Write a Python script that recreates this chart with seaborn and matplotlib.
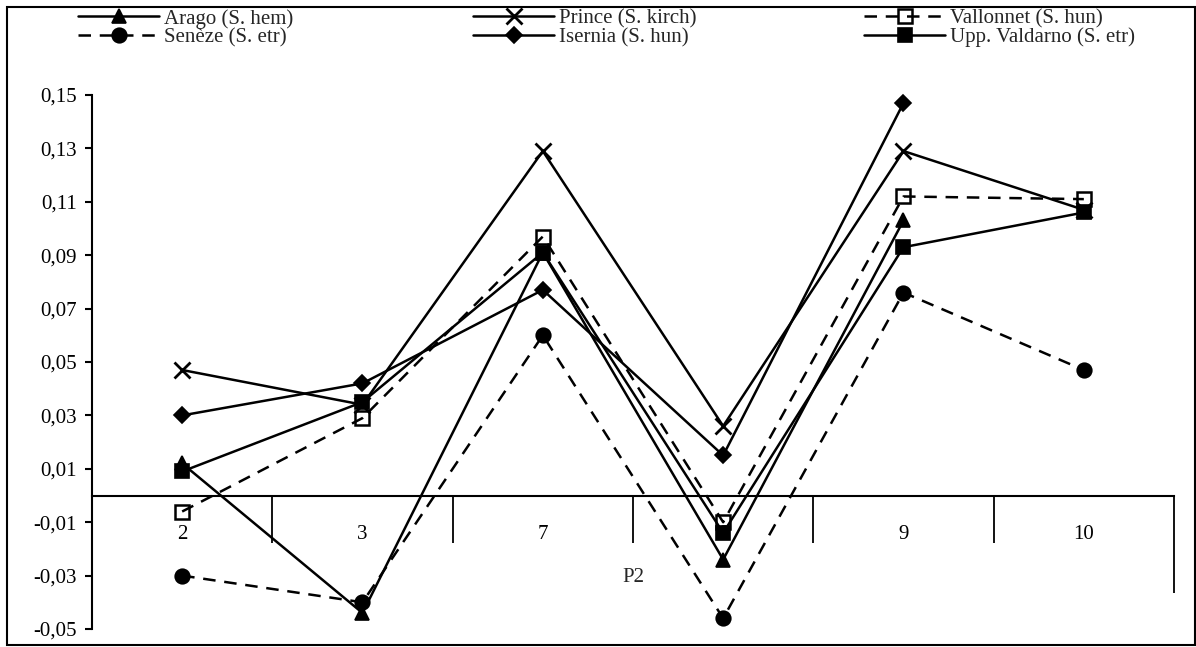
import numpy as np
import pandas as pd
import matplotlib
matplotlib.use("Agg")
import matplotlib.pyplot as plt
import seaborn as sns
from matplotlib.ticker import FuncFormatter, FixedLocator
from matplotlib.patches import Rectangle

# ---------------- data ----------------
categories = ["2", "3", "7", "8", "9", "10"]
group_label = "P2"

arago = [0.012, -0.044, 0.091, -0.024, 0.103, np.nan]
prince = [0.047, 0.034, 0.129, 0.026, 0.129, 0.107]
vallonnet = [-0.006, 0.029, 0.097, -0.010, 0.112, 0.111]
seneze = [-0.030, -0.040, 0.060, -0.046, 0.076, 0.047]
isernia = [0.030, 0.042, 0.077, 0.015, 0.147, np.nan]
valdarno = [0.009, 0.035, 0.091, -0.014, 0.093, 0.106]

series_names = ["Arago (S. hem)", "Prince (S. kirch)", "Vallonnet (S. hun)",
                "Senèze (S. etr)", "Isernia (S. hun)", "Upp. Valdarno (S. etr)"]
series_values = [arago, prince, vallonnet, seneze, isernia, valdarno]

y_ticks = [-0.05, -0.03, -0.01, 0.01, 0.03, 0.05, 0.07, 0.09, 0.11, 0.13, 0.15]

# ---------------- style ----------------
sns.set_style("white")
plt.rcParams["font.family"] = ["Liberation Serif", "DejaVu Serif"]
plt.rcParams["font.size"] = 15

W, H = 1196, 647
fig = plt.figure(figsize=(W / 100, H / 100), dpi=100)
x0, x1, ytop, ybot = 92, 1174, 95, 629
ax = fig.add_axes([x0 / W, 1 - ybot / H, (x1 - x0) / W, (ybot - ytop) / H])

dash = (0, (5, 3.5))
styles = {
    "Arago (S. hem)": dict(marker="^", linestyle="-", markersize=10, markerfacecolor="black"),
    "Prince (S. kirch)": dict(marker="x", linestyle="-", markersize=11, markeredgewidth=2),
    "Vallonnet (S. hun)": dict(marker="s", linestyle=dash, markersize=9.5,
                               markerfacecolor="none", markeredgewidth=1.8),
    "Senèze (S. etr)": dict(marker="o", linestyle=dash, markersize=10.5, markerfacecolor="black"),
    "Isernia (S. hun)": dict(marker="D", linestyle="-", markersize=8.5, markerfacecolor="black"),
    "Upp. Valdarno (S. etr)": dict(marker="s", linestyle="-", markersize=10, markerfacecolor="black"),
}

handles = {}
for name, vals in zip(series_names, series_values):
    df = pd.DataFrame({"cat": categories, "val": vals})
    kw = dict(styles[name])
    kw.setdefault("markeredgewidth", 1.2)
    sns.lineplot(data=df, x="cat", y="val", ax=ax, sort=False, legend=False,
                 color="black", linewidth=1.8, markeredgecolor="black",
                 zorder=3, clip_on=False, **kw)
    handles[name] = ax.lines[-1]

ax.set_xlim(-0.5, len(categories) - 0.5)
ax.set_ylim(-0.05, 0.15)
ax.yaxis.set_major_locator(FixedLocator(y_ticks))
ax.yaxis.set_major_formatter(FuncFormatter(lambda v, p: f"{v:.2f}".replace(".", ",")))

for s in ["top", "right"]:
    ax.spines[s].set_visible(False)
ax.spines["left"].set_linewidth(1.5)
ax.spines["bottom"].set_linewidth(1.5)
ax.spines["bottom"].set_position(("data", 0))
ax.spines["left"].set_color("black")
ax.spines["bottom"].set_color("black")

ax.tick_params(axis="y", which="major", direction="out", length=5, width=1.5,
               pad=6, colors="black", labelsize=15, left=True)
ax.tick_params(axis="x", which="major", length=0, pad=21, labelsize=15, colors="black")
# category dividers as minor ticks on the zero line
ax.xaxis.set_minor_locator(FixedLocator(np.arange(0.5, len(categories) - 1, 1.0)))
ax.tick_params(axis="x", which="minor", direction="out", length=34, width=1.3,
               colors="black", bottom=True)
# outer group boundary on the right
ax.vlines(len(categories) - 0.5, -0.0365, 0, color="black", linewidth=1.3, clip_on=False)

ax.set_xlabel(group_label, fontsize=15, labelpad=15)
ax.set_ylabel("")
ax.grid(False)

# ---------------- legend (three columns) ----------------
col_x = [78, 473, 864]
cols = [["Arago (S. hem)", "Senèze (S. etr)"],
        ["Prince (S. kirch)", "Isernia (S. hun)"],
        ["Vallonnet (S. hun)", "Upp. Valdarno (S. etr)"]]
for cx, names in zip(col_x, cols):
    fig.legend([handles[n] for n in names], names, loc="upper left",
               bbox_to_anchor=(cx / W, 1 - 9 / H), frameon=False,
               handlelength=3.9, handletextpad=0.25, labelspacing=-0.05,
               borderpad=0, borderaxespad=0, fontsize=15)

# figure border
fig.patches.append(Rectangle((7 / W, 2 / H), (1195 - 7) / W, (645 - 7) / H,
                             transform=fig.transFigure, fill=False,
                             edgecolor="black", linewidth=1.5))

fig.savefig("out.png", dpi=100)
